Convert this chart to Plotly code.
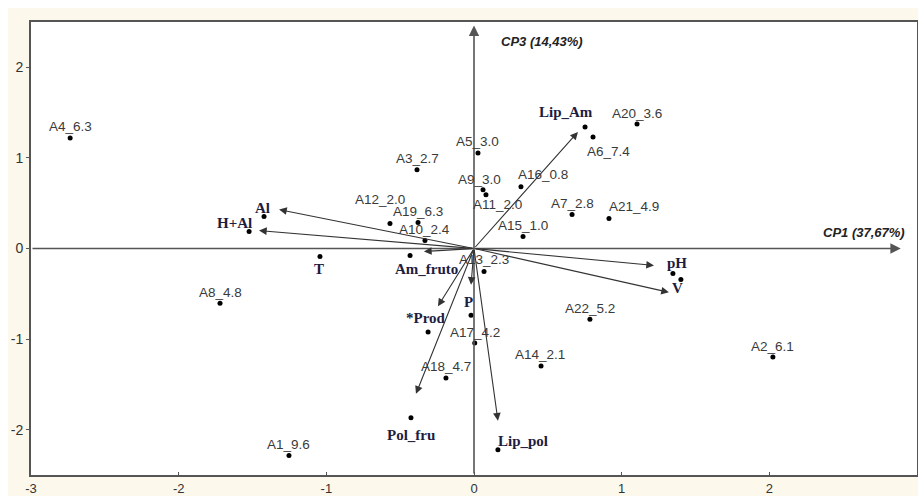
import plotly.graph_objects as go

# Sample scores (CP1, CP3)
sample_names = ["A1_9.6", "A2_6.1", "A3_2.7", "A4_6.3", "A5_3.0", "A6_7.4", "A7_2.8",
                "A8_4.8", "A9_3.0", "A10_2.4", "A11_2.0", "A12_2.0", "A13_2.3", "A14_2.1",
                "A15_1.0", "A16_0.8", "A17_4.2", "A18_4.7", "A19_6.3", "A20_3.6",
                "A21_4.9", "A22_5.2"]
sample_x = [-1.253, 2.024, -0.386, -2.735, 0.027, 0.806, 0.664, -1.720, 0.061, -0.332,
            0.081, -0.569, 0.068, 0.454, 0.332, 0.318, 0.005, -0.190, -0.379, 1.104,
            0.914, 0.785]
sample_y = [-2.286, -1.198, 0.868, 1.220, 1.055, 1.231, 0.374, -0.604, 0.648, 0.088,
            0.593, 0.275, -0.253, -1.297, 0.132, 0.681, -1.044, -1.429, 0.286, 1.374,
            0.330, -0.780]

# Variable positions and loading vectors
var_names = ["Al", "H+Al", "T", "Am_fruto", "P", "*Prod", "Pol_fru", "Lip_pol",
             "Lip_Am", "pH", "V"]
var_x = [-1.422, -1.523, -1.043, -0.433, -0.020, -0.311, -0.427, 0.162, 0.752, 1.347, 1.401]
var_y = [0.352, 0.187, -0.088, -0.077, -0.736, -0.923, -1.868, -2.220, 1.341, -0.275, -0.341]
arrow_vars = ["Al", "H+Al", "Am_fruto", "P", "*Prod", "Pol_fru", "Lip_pol", "Lip_Am", "pH", "V"]
arrow_x = [-1.320, -1.456, -0.339, -0.020, -0.244, -0.393, 0.162, 0.704, 1.219, 1.320]
arrow_y = [0.430, 0.198, -0.033, -0.400, -0.637, -1.604, -1.900, 1.286, -0.187, -0.484]

x_ticks = [-3, -2, -1, 0, 1, 2, 3]
x_ticktext = ["-3", "-2", "-1", "0", "1", "2", "3"]
y_ticks = [-2, -1, 0, 1, 2]
y_ticktext = ["-2", "-1", "0", "1", "2"]
x_title = "CP1 (37,67%)"
y_title = "CP3 (14,43%)"

# label offsets in pixels (dx, dy) relative to each point
sample_offsets = {
    "A6_7.4": (15, -15), "A9_3.0": (-4, 10), "A11_2.0": (12, -10), "A12_2.0": (-10, 24),
    "A13_2.3": (0, 12), "A16_0.8": (22, 12), "A21_4.9": (25, 12), "A14_2.1": (-1, 12),
}
var_offsets = {
    "Al": (-2, 9), "H+Al": (-15, 9), "T": (-1, -13), "Am_fruto": (16, -14),
    "P": (-3, 13), "*Prod": (-2, 14), "Pol_fru": (0, -17), "Lip_pol": (25, 9),
    "Lip_Am": (-19, 15), "pH": (4, 10), "V": (-3, -9),
}

CREAM = "#fcf8ec"
AXIS_GREY = "#555555"

fig = go.Figure()
fig.add_trace(go.Scatter(x=sample_x, y=sample_y, mode="markers",
                         marker=dict(color="black", size=5), hoverinfo="text",
                         text=sample_names, showlegend=False))
fig.add_trace(go.Scatter(x=var_x, y=var_y, mode="markers",
                         marker=dict(color="black", size=5), hoverinfo="text",
                         text=var_names, showlegend=False))

annotations = []
# central axes drawn as arrows
annotations.append(dict(x=2.89, y=0, ax=-3, ay=0, xref="x", yref="y", axref="x", ayref="y",
                        showarrow=True, arrowhead=2, arrowsize=1.3, arrowwidth=1.6,
                        arrowcolor=AXIS_GREY, text=""))
annotations.append(dict(x=0, y=2.46, ax=0, ay=-2.5, xref="x", yref="y", axref="x", ayref="y",
                        showarrow=True, arrowhead=2, arrowsize=1.3, arrowwidth=1.6,
                        arrowcolor=AXIS_GREY, text=""))
# loading vectors
for name, ax_, ay_ in zip(arrow_vars, arrow_x, arrow_y):
    annotations.append(dict(x=ax_, y=ay_, ax=0, ay=0, xref="x", yref="y",
                            axref="x", ayref="y", showarrow=True, arrowhead=2,
                            arrowsize=1.4, arrowwidth=1.1, arrowcolor="#333333", text=""))
# sample labels
for name, sx, sy in zip(sample_names, sample_x, sample_y):
    dx, dy = sample_offsets.get(name, (0, 11))
    annotations.append(dict(x=sx, y=sy, xref="x", yref="y", text=name, showarrow=False,
                            xshift=dx, yshift=dy,
                            font=dict(family="Liberation Sans, Arial", size=13.5,
                                      color="#3a3a3a")))
# variable labels
for name, vx, vy in zip(var_names, var_x, var_y):
    dx, dy = var_offsets[name]
    annotations.append(dict(x=vx, y=vy, xref="x", yref="y", text="<b>" + name + "</b>",
                            showarrow=False, xshift=dx, yshift=dy,
                            font=dict(family="Liberation Serif, Times New Roman", size=15,
                                      color="#1d1d3f")))
# axis titles
annotations.append(dict(x=2.93, y=0, xref="x", yref="y", text="<b><i>" + x_title + "</i></b>",
                        showarrow=False, xanchor="right", yanchor="middle", yshift=16,
                        font=dict(family="Liberation Sans, Arial", size=13, color="#222222")))
annotations.append(dict(x=0, y=2.28, xref="x", yref="y", text="<b><i>" + y_title + "</i></b>",
                        showarrow=False, xanchor="left", yanchor="middle", xshift=25,
                        font=dict(family="Liberation Sans, Arial", size=13, color="#222222")))

W, H = 918, 496
L, R, T, B = 31, 1, 22, 21
pw, ph = W - L - R, H - T - B
shapes = [
    # white strips above and left of the cream panel
    dict(type="rect", xref="paper", yref="paper", x0=-L / pw, x1=1 + R / pw + 0.01,
         y0=1 + (T - 8) / ph, y1=1 + T / ph + 0.01, fillcolor="white", line_width=0,
         layer="below"),
    dict(type="rect", xref="paper", yref="paper", x0=-L / pw - 0.01, x1=-(L - 8) / pw,
         y0=-B / ph - 0.01, y1=1 + T / ph + 0.01, fillcolor="white", line_width=0,
         layer="below"),
]

tick_font = dict(family="Liberation Sans, Arial", size=13, color="#333333")
axis_common = dict(showgrid=False, zeroline=False, showline=True, mirror=True,
                   linecolor=AXIS_GREY, linewidth=2, tickcolor=AXIS_GREY, ticklen=3,
                   tickwidth=1, automargin=False)
fig.update_layout(
    width=W, height=H, margin=dict(l=L, r=R, t=T, b=B),
    paper_bgcolor=CREAM, plot_bgcolor="white",
    xaxis=dict(range=[-3, 3], tickvals=x_ticks, ticktext=x_ticktext, ticks="inside",
               ticklabelstandoff=0, tickfont=tick_font, **axis_common),
    yaxis=dict(range=[-2.5, 2.5], tickvals=y_ticks, ticktext=y_ticktext, ticks="outside",
               tickfont=dict(tick_font, size=14), **axis_common),
    annotations=annotations, shapes=shapes, showlegend=False,
)
fig.write_html("out.html")
